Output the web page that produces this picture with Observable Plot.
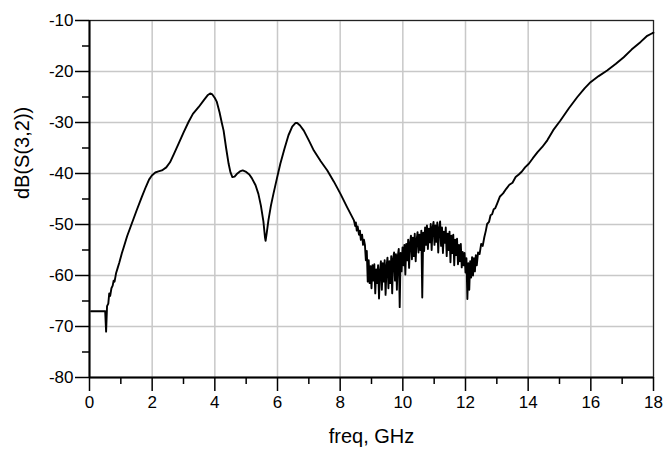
<!DOCTYPE html>
<html>
<head>
<meta charset="utf-8">
<script src="https://cdn.jsdelivr.net/npm/d3@7"></script>
<script src="https://cdn.jsdelivr.net/npm/@observablehq/plot@0.6"></script>
<style>
  html, body { margin: 0; padding: 0; background: #fff; }
</style>
</head>
<body>
<div id="chart"></div>
<script>
// frequency (GHz)
const freq = [
  0.05, 0.5, 0.53, 0.56, 0.6, 0.63, 0.66, 0.7, 0.74, 0.77, 0.8, 0.85, 0.9, 0.95, 1.03, 1.1, 1.2, 1.35, 1.5, 1.67,
  1.8, 1.9, 1.99, 2.1, 2.2, 2.31, 2.45, 2.57, 2.7, 2.84, 3.0, 3.16, 3.3, 3.48, 3.65, 3.78, 3.85, 3.92, 4.0, 4.06,
  4.15, 4.22, 4.28, 4.36, 4.44, 4.5, 4.56, 4.63, 4.7, 4.8, 4.89, 5.0, 5.1, 5.18, 5.3, 5.39, 5.47, 5.55, 5.6, 5.62,
  5.66, 5.71, 5.79, 5.87, 5.98, 6.09, 6.22, 6.35, 6.47, 6.57, 6.63, 6.72, 6.84, 7.0, 7.16, 7.38, 7.59, 7.8, 8.01, 8.22,
  8.44, 8.48, 8.5, 8.53, 8.56, 8.6, 8.63, 8.66, 8.7, 8.73, 8.76,
  8.79, 8.82, 8.85, 8.88, 8.91, 8.94, 8.97, 9.00, 9.03, 9.06, 9.09, 9.12, 9.15, 9.18, 9.21, 9.24, 9.27, 9.30, 9.33, 9.36,
  9.39, 9.42, 9.45, 9.48, 9.51, 9.54, 9.57, 9.60, 9.63, 9.66, 9.69, 9.72, 9.75, 9.78, 9.81, 9.84, 9.87, 9.90, 9.93, 9.96,
  9.99, 10.02, 10.05, 10.08, 10.11, 10.14, 10.17, 10.20, 10.23, 10.26, 10.29, 10.32, 10.35, 10.38, 10.41, 10.44, 10.47, 10.50, 10.53, 10.56,
  10.59, 10.62, 10.65, 10.68, 10.71, 10.74, 10.77, 10.80, 10.83, 10.86, 10.89, 10.92, 10.95, 10.98, 11.01, 11.04, 11.07, 11.10, 11.13, 11.16,
  11.19, 11.22, 11.25, 11.28, 11.31, 11.34, 11.37, 11.40, 11.43, 11.46, 11.49, 11.52, 11.55, 11.58, 11.61, 11.64, 11.67, 11.70, 11.73, 11.76,
  11.79, 11.82, 11.85, 11.88, 11.91, 11.94, 11.97, 12.00, 12.03, 12.06, 12.09, 12.12, 12.15, 12.18, 12.21, 12.24, 12.27, 12.30, 12.33, 12.36,
  12.40, 12.45, 12.50, 12.55, 12.60, 12.65, 12.69, 12.75, 12.80, 12.85, 12.90, 12.95, 13.01, 13.1, 13.2, 13.3, 13.4, 13.5, 13.6, 13.7,
  13.8, 13.9, 14.02, 14.15, 14.3, 14.45, 14.61, 14.8, 15.03, 15.3, 15.57, 15.8, 15.99, 16.25, 16.52, 16.8, 17.05, 17.3, 17.59, 17.8,
  17.96, 18.0
];
// dB(S(3,2))
const s32 = [
  -67, -67, -71, -66, -65.5, -63.5, -64, -62.5, -62.0, -61, -61.2, -59.5, -58.5, -57.5, -55.7, -54.3, -52.3, -49.8, -47.3, -44.6,
  -42.6, -41.2, -40.4, -39.8, -39.6, -39.4, -38.8, -37.8, -36.1, -34.2, -32, -29.9, -28.3, -27, -25.6, -24.6, -24.3, -24.5, -25.2, -25.9,
  -28, -30, -31.6, -35, -38.1, -39.8, -40.7, -40.6, -40.1, -39.6, -39.4, -39.7, -40.2, -40.9, -42.3, -44, -46.3, -49.4, -52.5, -53.2,
  -51.5, -49.2, -46.3, -44, -41, -38.1, -35.2, -32.5, -30.8, -30.1, -30.1, -30.6, -31.6, -33.5, -35.5, -37.6, -39.4, -41.6, -44, -46.6,
  -49.2, -50.3, -49.6, -51.2, -50.4, -52.0, -51.2, -53.0, -52.0, -54.0, -53.0,
  -54.0, -57.0, -55.2, -61.2, -57.0, -61.5, -58.2, -62.5, -58.0, -61.0, -57.8, -63.5, -58.8, -61.5, -58.0, -64.5, -59.2, -57.2, -62.8, -57.6,
  -61.2, -57.0, -63.8, -58.2, -56.5, -62.5, -57.2, -61.5, -56.2, -63.5, -56.8, -55.5, -61.0, -55.8, -62.8, -56.2, -54.8, -66.2, -55.6, -59.2,
  -54.5, -58.0, -54.0, -59.8, -53.8, -57.0, -53.0, -58.5, -53.6, -52.2, -56.8, -52.6, -56.2, -51.8, -57.2, -53.0, -51.5, -55.5, -52.0, -55.0,
  -51.2, -64.3, -51.6, -55.2, -50.6, -54.0, -50.2, -54.8, -50.8, -53.5, -49.9, -55.0, -50.6, -49.5, -54.0, -50.2, -53.4, -49.6, -55.5, -50.8,
  -49.4, -54.2, -50.6, -55.6, -51.4, -53.6, -50.6, -56.2, -51.8, -55.0, -51.4, -57.4, -52.2, -55.6, -52.0, -58.0, -53.0, -56.0, -52.8, -57.8,
  -54.0, -57.2, -53.8, -58.4, -55.4, -58.0, -55.6, -59.4, -56.6, -64.6, -57.6, -62.8, -57.2, -60.4, -56.4, -60.0, -56.6, -59.2, -56.0, -58.0,
  -55.5, -55.8, -53.8, -54.2, -52.5, -51.2, -49.9, -49.5, -48.2, -48.0, -47.0, -46.8, -45.9, -44.5, -43.9, -43.0, -42.2, -41.8, -40.7, -40.2,
  -39.6, -38.8, -38.1, -37.0, -35.8, -34.8, -33.5, -31.5, -29.6, -27.2, -25.0, -23.3, -22.1, -20.9, -19.8, -18.5, -17.2, -15.7, -14.2, -13.0,
  -12.5, -12.4
];
const xMajor = [0, 2, 4, 6, 8, 10, 12, 14, 16, 18];
const xMinor = [1, 3, 5, 7, 9, 11, 13, 15, 17];
const yMajor = [-80, -70, -60, -50, -40, -30, -20, -10];
const yMinor = [-75, -65, -55, -45, -35, -25, -15];
const xLabel = "freq, GHz";
const yLabel = "dB(S(3,2))";

const data = freq.map((f, i) => ({f, v: s32[i]}));

const chart = Plot.plot({
  width: 664,
  height: 456,
  marginLeft: 89,
  marginRight: 11,
  marginTop: 20,
  marginBottom: 79,
  style: {fontFamily: "'Liberation Sans', Arial, sans-serif", fontSize: "17px", color: "#000", background: "#fff"},
  x: {domain: [0, 18]},
  y: {domain: [-80, -10]},
  marks: [
    Plot.gridX(xMajor, {stroke: "#c8c8c8", strokeOpacity: 1, strokeWidth: 1.5}),
    Plot.gridY(yMajor, {stroke: "#c8c8c8", strokeOpacity: 1, strokeWidth: 1.5}),
    Plot.frame({stroke: "#222", strokeWidth: 1.2}),
    Plot.axisX(xMajor, {tickSize: 14, tickPadding: 4, strokeWidth: 1.5, label: null, fontSize: 17, tickFormat: d => String(d)}),
    Plot.axisX(xMinor, {tickSize: 7, tickFormat: () => "", strokeWidth: 1.5, label: null}),
    Plot.axisY(yMajor, {tickSize: 14, tickPadding: 2, strokeWidth: 1.5, label: null, fontSize: 17, tickFormat: d => String(d)}),
    Plot.axisY(yMinor, {tickSize: 7, tickFormat: () => "", strokeWidth: 1.5, label: null}),
    Plot.ruleX([0], {stroke: "#000", strokeWidth: 2}),
    Plot.ruleY([-80], {stroke: "#000", strokeWidth: 2}),
    Plot.line(data, {x: "f", y: "v", stroke: "#000", strokeWidth: 1.9, strokeLinejoin: "round"}),
    Plot.text([xLabel], {text: d => d, frameAnchor: "bottom", dy: 65, fontSize: 20, fill: "#000"}),
    Plot.text([yLabel], {text: d => d, frameAnchor: "left", rotate: -90, dx: -67, fontSize: 20, fill: "#000"})
  ]
});
document.getElementById("chart").appendChild(chart);
</script>
</body>
</html>
